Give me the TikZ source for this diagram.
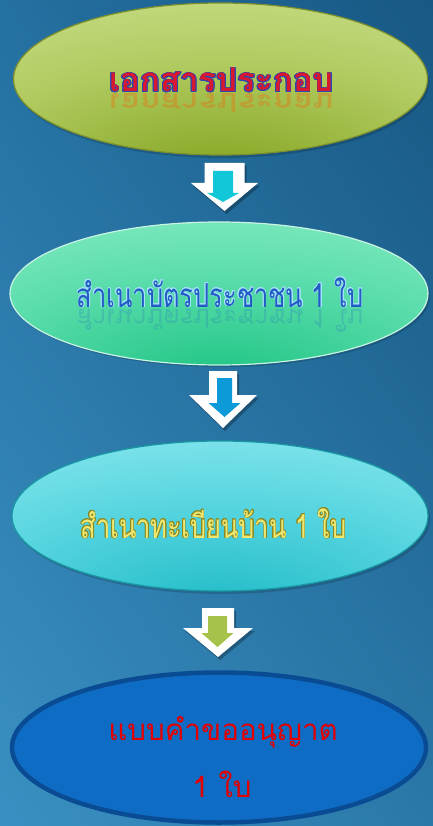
\documentclass[tikz,border=0pt]{standalone}
\usepackage{fontspec}
\newfontfamily\thai[Script=Thai]{Loma}
\usepackage[copies]{contour}
\usetikzlibrary{shapes.geometric,shadings}
\definecolor{bgTL}{HTML}{2470A0}
\definecolor{bgTR}{HTML}{185884}
\definecolor{bgBL}{HTML}{3A90C2}
\definecolor{bgBR}{HTML}{2A78A8}
\definecolor{gLight}{HTML}{D4E69A}
\definecolor{gMid}{HTML}{B2CC62}
\definecolor{gDark}{HTML}{84A420}
\definecolor{gLine}{HTML}{7E902C}
\definecolor{mLight}{HTML}{98F2CC}
\definecolor{mMid}{HTML}{5EDEAE}
\definecolor{mDark}{HTML}{1EC484}
\definecolor{mLine}{HTML}{C8F4E4}
\definecolor{cLight}{HTML}{A2EEF4}
\definecolor{cMid}{HTML}{5ED8E2}
\definecolor{cDark}{HTML}{20BCC8}
\definecolor{cLine}{HTML}{1898A2}
\definecolor{bFill}{HTML}{0F6CC4}
\definecolor{bLine}{HTML}{0A4C94}
\definecolor{redT}{HTML}{D81830}
\definecolor{blueO}{HTML}{2A48B0}
\definecolor{blueT}{HTML}{1F5CC4}
\definecolor{yelT}{HTML}{EEE872}
\definecolor{oliveO}{HTML}{8C8A22}
\definecolor{arrC}{HTML}{12C8D8}
\definecolor{arrB}{HTML}{0C9AD8}
\definecolor{arrG}{HTML}{A6C24A}
\pgfdeclareradialshading{gshade}{\pgfpoint{0bp}{-32bp}}{%
  color(0bp)=(gDark); color(30bp)=(gMid); color(62bp)=(gLight); color(110bp)=(gLight)}
\pgfdeclareradialshading{mshade}{\pgfpoint{0bp}{-30bp}}{%
  color(0bp)=(mDark); color(30bp)=(mMid); color(62bp)=(mLight); color(110bp)=(mLight)}
\pgfdeclareradialshading{cshade}{\pgfpoint{0bp}{-30bp}}{%
  color(0bp)=(cDark); color(30bp)=(cMid); color(62bp)=(cLight); color(110bp)=(cLight)}
\newcommand\blockarrow[7]{%
  \path[#7] (#1-#3,#2) -- (#1+#3,#2) -- (#1+#3,#5) -- (#1+#4,#5) -- (#1,#6)
    -- (#1-#4,#5) -- (#1-#3,#5) -- cycle;}
\tikzset{
  oval/.style={ellipse, inner sep=0pt},
  whitearrow/.style={fill=white},
  arrshadow/.style={fill=black, opacity=0.28},
  ovalshadow/.style={fill=black, opacity=0.16},
  label text/.style={anchor=base, inner sep=0pt},
}
\begin{document}
\begin{tikzpicture}[x=1pt,y=-1pt]
\useasboundingbox (0,0) rectangle (433,826);
\shade[upper left=bgTL, upper right=bgTR, lower left=bgBL, lower right=bgBR] (0,0) rectangle (433,826);

% oval shadows
\fill[ovalshadow] (222,82) ellipse [x radius=207pt, y radius=76pt];
\fill[ovalshadow] (221,296) ellipse [x radius=209pt, y radius=71pt];
\fill[ovalshadow] (222,519) ellipse [x radius=208pt, y radius=75pt];

% ovals
\node[oval, draw=gLine, line width=1.2pt, minimum width=414pt, minimum height=152pt, shading=gshade]
  (e1) at (220.5,79) {};
\node[oval, draw=mLine, line width=1.2pt, minimum width=418pt, minimum height=143pt, shading=mshade]
  (e2) at (219,293.5) {};
\node[oval, draw=cLine, line width=1.2pt, minimum width=416pt, minimum height=150pt, shading=cshade]
  (e3) at (220,516) {};
\node[oval, draw=bLine, line width=4.5pt, fill=bFill, minimum width=414pt, minimum height=150pt]
  (e4) at (219,747.5) {};

% arrows (connectors between the ovals)
\blockarrow{226.5}{166}{20}{33.5}{186}{214}{arrshadow}
\blockarrow{224.5}{163}{20}{33.5}{183}{211}{whitearrow}
\blockarrow{223}{171}{10}{16}{193}{202}{fill=arrC}

\blockarrow{225}{374}{14}{34}{398}{431}{arrshadow}
\blockarrow{223}{371}{14}{34}{395}{428}{whitearrow}
\blockarrow{224.5}{378}{7.5}{16}{403}{417}{fill=arrB}

\blockarrow{220}{611}{16}{35}{631}{660}{arrshadow}
\blockarrow{218}{608}{16}{35}{628}{657}{whitearrow}
\blockarrow{217.5}{616}{9.5}{16}{633}{647}{fill=arrG}

% text 1 and its reflection
\contourlength{0.8pt}
\begin{scope}[shift={(221.5,94)}, yscale=-1]
  \node[transform shape, label text, opacity=0.3, text=orange!70!red]
   (t1r) at (0,0) {\thai\bfseries\fontsize{33}{36}\selectfont\scalebox{1}[0.8]{เอกสารประกอบ}};
\end{scope}
\node[label text] (t1) at (221.5,92)
  {\thai\bfseries\fontsize{33}{36}\selectfont\contour{blueO}{\textcolor{redT}{เอกสารประกอบ}}};

% text 2 and its reflection
\contourlength{0.5pt}
\begin{scope}[shift={(220,309)}, yscale=-1]
  \node[transform shape, label text, opacity=0.2, text=blueT]
   (t2r) at (0,0) {\thai\fontsize{25.5}{30}\selectfont สำเนาบัตรประชาชน 1 ใบ};
\end{scope}
\node[label text] (t2) at (220,307)
  {\thai\fontsize{25.5}{30}\selectfont\scalebox{1}[1.3]{\contour{cyan!35!white}{\textcolor{blueT}{สำเนาบัตรประชาชน 1 ใบ}}}};

% text 3
\contourlength{0.6pt}
\node[label text] (t3) at (213.5,538)
  {\thai\fontsize{25.5}{30}\selectfont\scalebox{1}[1.3]{\contour{oliveO}{\textcolor{yelT}{สำเนาทะเบียนบ้าน 1 ใบ}}}};

% text 4
\node[label text, text=red!90!black] (t4a) at (223,740)
  {\thai\fontsize{29.5}{34}\selectfont แบบคำขออนุญาต};
\node[label text, text=red!90!black] (t4b) at (222,797)
  {\thai\fontsize{29.5}{34}\selectfont 1 ใบ};
\end{tikzpicture}
\end{document}
